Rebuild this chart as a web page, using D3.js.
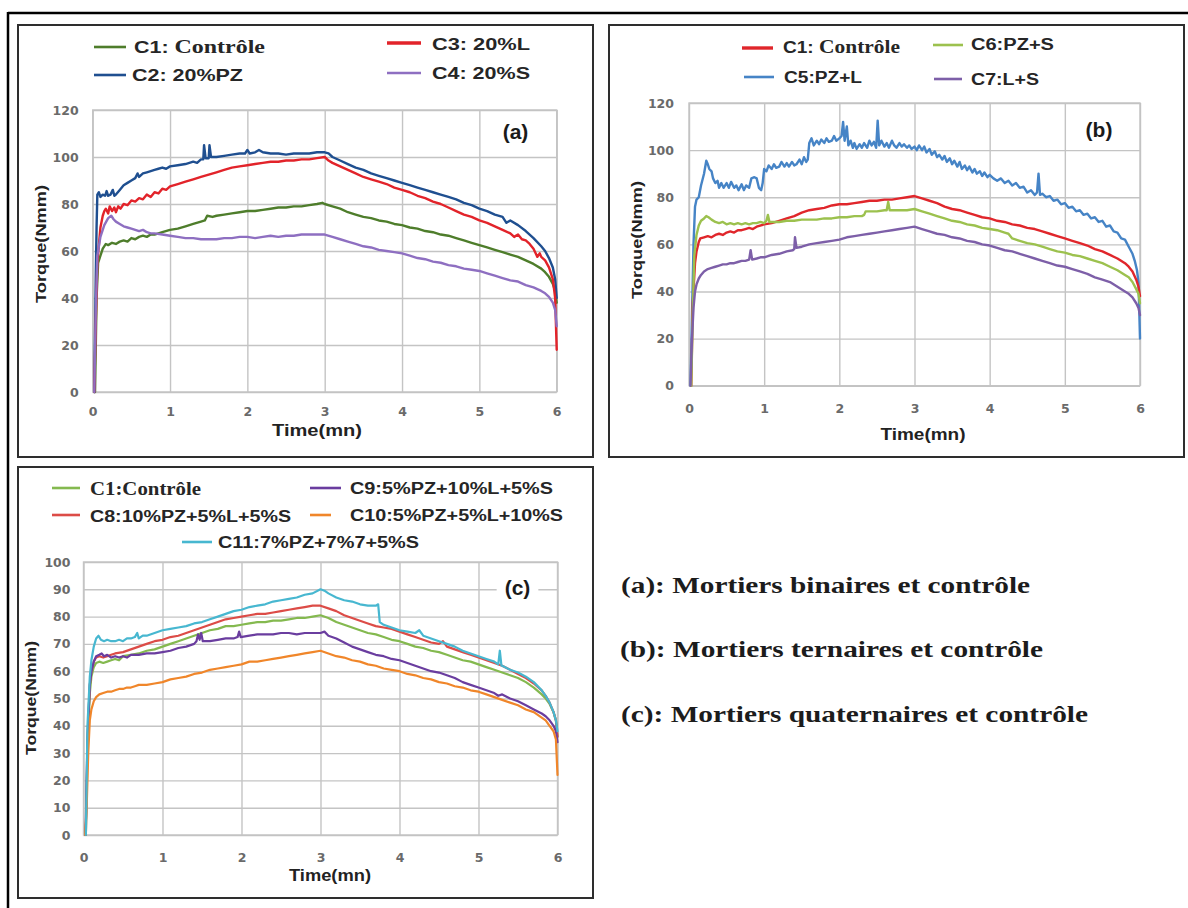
<!DOCTYPE html>
<html>
<head>
<meta charset="utf-8">
<script src="https://cdn.jsdelivr.net/npm/d3@7"></script>
<style>
  body { margin: 0; background: #fff; }
  svg { display: block; }
</style>
</head>
<body>
<svg id="fig" width="1188" height="908"></svg>
<script>
// ---- Axis ticks ----------------------------------------------------------
const timeTicks = [0, 1, 2, 3, 4, 5, 6];
const torqueTicksAB = [0, 20, 40, 60, 80, 100, 120];
const torqueTicksC = [0, 10, 20, 30, 40, 50, 60, 70, 80, 90, 100];

// ---- Series: [time (mn), torque (Nmm)] -----------------------------------
// (a) binary mortars
const a_C1 = [[0.03,0],[0.05,40],[0.07,55],[0.1,58],[0.13,61],[0.17,63],[0.2,62.5],[0.25,63.5],[0.3,63],[0.35,64],[0.4,64.5],[0.45,64],[0.5,65.5],[0.55,65],[0.6,66],[0.65,66.5],[0.7,66],[0.75,67],[0.8,67],[0.85,67.5],[0.9,68],[1.0,69],[1.1,69.5],[1.2,70.5],[1.3,71.5],[1.4,72.5],[1.45,73],[1.48,75],[1.55,74.5],[1.6,75],[1.7,75.5],[1.8,76],[1.9,76.5],[2.0,77],[2.1,77],[2.2,77.5],[2.3,78],[2.4,78.5],[2.5,78.5],[2.6,79],[2.7,79],[2.8,79.5],[2.9,80],[2.97,80.5],[3.0,80],[3.1,79],[3.2,78],[3.3,76.5],[3.4,75.5],[3.5,74.5],[3.6,74],[3.7,73],[3.8,72.5],[3.9,71.5],[4.0,71],[4.1,70],[4.2,69.5],[4.3,68.5],[4.4,68],[4.5,67],[4.6,66.5],[4.7,65.5],[4.8,64.5],[4.9,63.5],[5.0,62.5],[5.1,61.5],[5.2,60.5],[5.3,59.5],[5.4,58.5],[5.5,57.5],[5.6,56],[5.7,54.5],[5.8,52.5],[5.85,51],[5.9,49],[5.95,46],[5.98,43],[6.0,38]];
const a_C2 = [[0.02,0],[0.04,50],[0.05,70],[0.06,84],[0.08,85],[0.1,83],[0.13,84],[0.16,83.5],[0.18,85.5],[0.2,83.5],[0.23,84],[0.26,86],[0.28,83.5],[0.3,84],[0.35,86],[0.4,88],[0.45,89],[0.5,90],[0.55,91],[0.58,93],[0.6,91.5],[0.65,93],[0.7,93.5],[0.75,94],[0.8,94.5],[0.85,95],[0.9,95.5],[0.95,95],[1.0,96],[1.1,96.5],[1.2,97],[1.3,98],[1.35,97.5],[1.4,99],[1.43,99],[1.44,105],[1.46,99.5],[1.5,99.5],[1.51,105],[1.53,100],[1.6,100],[1.7,100.5],[1.8,101],[1.9,101.5],[1.97,101.5],[2.0,103],[2.03,101.5],[2.1,102],[2.15,103],[2.2,102],[2.3,101.5],[2.4,101.5],[2.5,101],[2.6,101.5],[2.7,101.5],[2.8,101.5],[2.9,102],[3.0,102],[3.05,101.5],[3.1,100],[3.2,98.5],[3.3,97],[3.4,95.5],[3.5,94.5],[3.6,93],[3.7,92],[3.8,91],[3.9,90],[4.0,89],[4.1,88],[4.2,87],[4.3,86],[4.4,85],[4.5,84],[4.6,83],[4.7,82],[4.8,80.5],[4.9,79.5],[5.0,78],[5.1,77],[5.2,75.5],[5.3,74.5],[5.35,72],[5.4,73],[5.5,71],[5.6,68.5],[5.7,65.5],[5.8,62],[5.85,60],[5.9,57],[5.95,53],[5.98,48],[6.0,40]];
const a_C3 = [[0.02,0],[0.04,30],[0.06,55],[0.1,70],[0.13,75],[0.15,77],[0.17,78],[0.2,76],[0.22,79],[0.25,77],[0.28,78.5],[0.3,76.5],[0.33,79],[0.36,78],[0.4,80],[0.45,79.5],[0.5,81.5],[0.55,81],[0.6,82.5],[0.65,82],[0.7,84],[0.75,83],[0.8,85],[0.85,84.5],[0.9,86.5],[0.95,86],[1.0,87.5],[1.1,88.5],[1.2,89.5],[1.3,90.5],[1.4,91.5],[1.5,92.5],[1.6,93.5],[1.7,94.5],[1.8,95.5],[1.9,96],[2.0,96.5],[2.1,97],[2.2,97.5],[2.3,98],[2.4,98],[2.5,98.5],[2.6,98.5],[2.7,99],[2.8,99],[2.9,99.5],[3.0,100],[3.05,98.5],[3.1,97.5],[3.2,96],[3.3,94.5],[3.4,93],[3.5,91.5],[3.6,90.5],[3.7,89.5],[3.8,88.5],[3.9,87],[4.0,86],[4.1,85],[4.2,83.5],[4.3,82.5],[4.4,81],[4.5,80],[4.6,78.5],[4.7,77],[4.8,75.5],[4.9,74.5],[5.0,73],[5.1,72],[5.2,70.5],[5.3,69],[5.4,67.5],[5.45,66],[5.5,67],[5.55,65],[5.6,64.5],[5.65,63],[5.7,61],[5.75,57.5],[5.78,59],[5.8,57.5],[5.85,56],[5.9,53],[5.95,48],[5.98,40],[6.0,18]];
const a_C4 = [[0.02,0],[0.04,35],[0.06,58],[0.1,66],[0.15,71],[0.2,74],[0.24,75],[0.27,73.5],[0.3,72.5],[0.35,71.5],[0.4,70.5],[0.45,70],[0.5,69.5],[0.55,69],[0.6,68.5],[0.65,69],[0.7,68],[0.75,67.5],[0.8,67.5],[0.9,67],[1.0,66.5],[1.1,66],[1.2,65.5],[1.3,65.5],[1.4,65],[1.5,65],[1.6,65],[1.7,65.5],[1.8,65.5],[1.9,66],[2.0,66],[2.1,65.5],[2.2,66],[2.3,66.5],[2.4,66],[2.5,66.5],[2.6,66.5],[2.7,67],[2.8,67],[2.9,67],[3.0,67],[3.1,66],[3.2,65],[3.3,64],[3.4,63],[3.5,62],[3.6,61.5],[3.7,60.5],[3.8,60],[3.9,59.5],[4.0,59],[4.1,58],[4.2,57],[4.3,56.5],[4.4,55.5],[4.5,55],[4.6,54],[4.7,53.5],[4.8,52.5],[4.9,52],[5.0,51.5],[5.1,50.5],[5.2,49.5],[5.3,48.5],[5.4,47.5],[5.5,47],[5.6,45.5],[5.7,44.5],[5.8,43],[5.85,42],[5.9,40.5],[5.95,38],[5.98,35],[6.0,28]];

// (b) ternary mortars
const b_C1 = [[0.03,0],[0.05,35],[0.08,52],[0.1,57],[0.13,61],[0.15,62.5],[0.2,63],[0.25,63.5],[0.3,63],[0.35,64],[0.4,64.5],[0.45,64],[0.5,65],[0.55,65.5],[0.6,65],[0.65,66],[0.7,66],[0.75,66.5],[0.8,67],[0.85,66.5],[0.9,67.5],[1.0,68.5],[1.1,69],[1.2,70],[1.3,71],[1.4,72],[1.5,73.5],[1.6,74.5],[1.7,75],[1.8,75.5],[1.9,76.5],[2.0,77],[2.1,77],[2.2,77.5],[2.3,78],[2.4,78.5],[2.5,78.5],[2.6,79],[2.7,79],[2.8,79.5],[2.9,80],[3.0,80.5],[3.1,79.5],[3.2,78.5],[3.3,77.5],[3.4,76],[3.5,75],[3.6,74.5],[3.7,73.5],[3.8,72.5],[3.9,71.5],[4.0,71],[4.1,70],[4.2,69.5],[4.3,68.5],[4.4,68],[4.5,67],[4.6,66.5],[4.7,65.5],[4.8,64.5],[4.9,63.5],[5.0,62.5],[5.1,61.5],[5.2,60.5],[5.3,59.5],[5.4,58],[5.5,57],[5.6,55.5],[5.7,54],[5.8,52],[5.85,50.5],[5.9,48.5],[5.95,45],[5.98,42],[6.0,38]];
const b_C5 = [[0.02,0],[0.04,30],[0.06,60],[0.08,76],[0.1,79],[0.13,80],[0.16,85],[0.2,90],[0.23,95.5],[0.25,94],[0.27,92],[0.3,91],[0.32,88],[0.35,86],[0.38,87],[0.4,84],[0.43,86],[0.46,84],[0.5,86],[0.53,84],[0.56,86.5],[0.6,84],[0.63,85],[0.66,83],[0.7,85.5],[0.73,83],[0.76,85],[0.8,84],[0.83,88],[0.87,88.5],[0.9,88],[0.93,84],[0.96,83],[0.98,86],[1.0,92],[1.03,91],[1.06,93.5],[1.1,92],[1.13,94],[1.16,92.5],[1.2,93],[1.23,95],[1.27,93],[1.3,94.5],[1.33,93],[1.37,95],[1.4,93.5],[1.43,94],[1.47,96],[1.5,94],[1.53,97],[1.56,95],[1.58,96],[1.6,103],[1.63,105],[1.66,102],[1.7,104],[1.73,102.5],[1.76,104.5],[1.8,103],[1.83,105],[1.86,103.5],[1.9,104],[1.93,106],[1.96,104],[2.0,105],[2.03,106],[2.05,112],[2.07,104],[2.1,110],[2.12,102],[2.15,104],[2.18,101],[2.2,103],[2.23,100.5],[2.27,102.5],[2.3,101],[2.33,103],[2.37,101],[2.4,104],[2.43,102],[2.46,103.5],[2.49,101],[2.51,112.5],[2.53,102],[2.56,104],[2.6,101.5],[2.63,103],[2.66,101],[2.7,104],[2.73,102],[2.76,101],[2.8,103],[2.83,101.5],[2.86,102.5],[2.9,101],[2.93,102],[2.96,100.5],[3.0,101.5],[3.03,100],[3.06,102],[3.1,100],[3.13,101.5],[3.16,99],[3.2,100.5],[3.23,98],[3.27,99.5],[3.3,97],[3.33,98],[3.37,96],[3.4,97.5],[3.43,95],[3.47,96.5],[3.5,94],[3.53,95.5],[3.57,93],[3.6,95],[3.63,92],[3.67,93.5],[3.7,91.5],[3.73,93],[3.77,90.5],[3.8,92],[3.83,90],[3.87,91],[3.9,89],[3.93,90.5],[3.97,88.5],[4.0,89.5],[4.05,88],[4.1,87],[4.15,88],[4.2,86],[4.25,87],[4.3,85],[4.35,86],[4.4,84],[4.45,84.5],[4.5,82],[4.55,83],[4.6,81],[4.63,82],[4.65,90],[4.67,81],[4.7,81.5],[4.75,80],[4.8,80.5],[4.85,78.5],[4.9,79],[4.95,77],[5.0,77.5],[5.05,75.5],[5.1,76],[5.15,74],[5.2,74.5],[5.25,72.5],[5.3,73],[5.35,71],[5.4,71.5],[5.45,69.5],[5.5,70],[5.55,67.5],[5.6,68],[5.65,65.5],[5.7,65],[5.75,62.5],[5.8,62],[5.85,59],[5.9,56],[5.93,53],[5.96,49],[5.98,44],[6.0,20]];
const b_C6 = [[0.03,0],[0.05,30],[0.07,55],[0.1,64],[0.13,68],[0.16,70],[0.2,71],[0.23,72],[0.26,71.5],[0.3,70.5],[0.35,69.5],[0.4,69],[0.45,69.5],[0.5,68.5],[0.55,69],[0.6,68.5],[0.65,69],[0.7,68.5],[0.75,69],[0.8,68.5],[0.85,69],[0.9,69],[0.95,69.5],[1.0,69],[1.03,70],[1.05,72.5],[1.07,69.5],[1.1,69.5],[1.2,69.5],[1.3,70],[1.4,70],[1.5,70.5],[1.6,70.5],[1.7,70.5],[1.8,71],[1.9,71],[2.0,71.5],[2.1,71.5],[2.2,72],[2.3,72],[2.33,72.5],[2.35,74],[2.4,74],[2.5,74],[2.6,74.5],[2.63,74.5],[2.65,78],[2.67,74.5],[2.7,74.5],[2.8,74.5],[2.9,74.5],[3.0,75],[3.1,74],[3.2,73],[3.3,72],[3.4,71],[3.5,70],[3.6,69.5],[3.7,68.5],[3.8,68],[3.9,67],[4.0,66.5],[4.1,66],[4.2,65],[4.25,64.5],[4.3,62.5],[4.35,62],[4.4,61.5],[4.5,60.5],[4.6,60],[4.7,59],[4.8,58],[4.9,57],[5.0,56.5],[5.1,55.5],[5.2,55],[5.3,54],[5.4,53],[5.5,52],[5.6,50.5],[5.7,49],[5.8,47],[5.85,46],[5.9,44],[5.95,41],[5.98,39],[6.0,35]];
const b_C7 = [[0.02,0],[0.04,20],[0.06,33],[0.08,40],[0.1,43],[0.13,45.5],[0.16,47],[0.2,48.5],[0.25,49.5],[0.3,50],[0.35,50.5],[0.4,51],[0.45,51.5],[0.5,51.5],[0.55,52],[0.6,52],[0.65,52.5],[0.7,53],[0.75,53],[0.8,53.5],[0.82,57.5],[0.84,53.5],[0.9,54],[0.95,54.5],[1.0,54.5],[1.1,55.5],[1.2,56],[1.3,57],[1.38,57.5],[1.4,58],[1.41,63],[1.43,58.5],[1.5,59],[1.6,60],[1.7,60.5],[1.8,61],[1.9,61.5],[2.0,62],[2.1,63],[2.2,63.5],[2.3,64],[2.4,64.5],[2.5,65],[2.6,65.5],[2.7,66],[2.8,66.5],[2.9,67],[3.0,67.5],[3.1,66.5],[3.2,65.5],[3.3,64.5],[3.4,64],[3.5,63],[3.6,62.5],[3.7,61.5],[3.8,61],[3.9,60],[4.0,59.5],[4.1,58.5],[4.2,57.5],[4.3,57],[4.4,56],[4.5,55],[4.6,54],[4.7,53],[4.8,52],[4.9,51],[5.0,50.5],[5.1,49.5],[5.2,48.5],[5.3,47.5],[5.4,46],[5.5,45],[5.6,44],[5.7,42],[5.8,40],[5.85,39],[5.9,37.5],[5.95,35],[5.98,33],[6.0,30]];

// (c) quaternary mortars
const c_C1 = [[0.03,0],[0.05,30],[0.08,52],[0.1,58],[0.13,61.5],[0.16,63],[0.2,63.5],[0.25,63],[0.3,63.5],[0.35,64],[0.4,64.5],[0.45,64],[0.5,65.5],[0.6,66],[0.7,66.5],[0.8,67.5],[0.9,68],[1.0,69],[1.1,70],[1.2,71],[1.3,72],[1.4,73],[1.5,74],[1.6,75],[1.7,75.5],[1.8,76.5],[1.9,76.5],[2.0,77],[2.1,77.5],[2.2,78],[2.3,78],[2.4,78.5],[2.5,78.5],[2.6,79],[2.7,79.5],[2.8,79.5],[2.9,80],[3.0,80.5],[3.1,79.5],[3.2,78],[3.3,77],[3.4,76],[3.5,75],[3.6,74],[3.7,73.5],[3.8,72.5],[3.9,71.5],[4.0,71],[4.1,70],[4.2,69],[4.3,68.5],[4.4,67.5],[4.5,67],[4.6,66],[4.7,65],[4.8,64],[4.9,63.5],[5.0,62.5],[5.1,61.5],[5.2,60.5],[5.3,59.5],[5.4,58.5],[5.5,57.5],[5.6,56],[5.7,54],[5.8,51.5],[5.85,50],[5.9,48],[5.95,45],[5.98,42],[6.0,36]];
const c_C8 = [[0.03,0],[0.05,35],[0.08,55],[0.1,60],[0.13,63.5],[0.16,65],[0.2,65.5],[0.25,65],[0.3,65.5],[0.35,66],[0.4,66.5],[0.5,67],[0.6,68],[0.7,69],[0.8,70],[0.9,71],[1.0,71.5],[1.1,72.5],[1.2,73],[1.3,74],[1.4,75],[1.5,76],[1.6,77],[1.7,78],[1.8,79],[1.9,79.5],[2.0,80],[2.1,80.5],[2.2,81],[2.3,81],[2.4,81.5],[2.5,82],[2.6,82.5],[2.7,83],[2.8,83.5],[2.9,84],[3.0,84],[3.1,83],[3.2,82],[3.3,80.5],[3.4,79.5],[3.5,78.5],[3.6,77.5],[3.7,76.5],[3.8,76],[3.9,75.5],[4.0,74.5],[4.1,73.5],[4.2,72.5],[4.3,71.5],[4.4,70.5],[4.5,70],[4.55,71],[4.6,69],[4.7,68],[4.8,67],[4.9,66],[5.0,65],[5.1,64],[5.2,63],[5.3,62],[5.4,60.5],[5.5,59],[5.6,57.5],[5.7,55.5],[5.8,53],[5.85,51],[5.9,48.5],[5.95,45],[5.98,42],[6.0,36]];
const c_C9 = [[0.02,0],[0.03,5],[0.05,35],[0.08,55],[0.1,60],[0.13,63.5],[0.16,65.5],[0.2,66],[0.23,66.5],[0.26,65.5],[0.3,66],[0.35,65],[0.4,65.5],[0.45,65],[0.5,65.5],[0.55,65],[0.6,66],[0.7,66],[0.8,66.5],[0.9,66.5],[1.0,67],[1.1,67.5],[1.2,68.5],[1.3,69],[1.4,70],[1.43,71],[1.45,73.5],[1.47,71.5],[1.49,74],[1.51,71],[1.55,71],[1.6,71],[1.7,71.5],[1.8,72],[1.9,72],[1.95,72.5],[1.97,74.5],[1.99,72.5],[2.1,73],[2.2,73.5],[2.3,73.5],[2.4,73.5],[2.5,74],[2.6,74],[2.7,73.5],[2.8,74],[2.9,74],[3.0,74],[3.05,74.5],[3.1,73],[3.2,72],[3.3,70.5],[3.4,69],[3.5,68],[3.6,67],[3.7,66],[3.8,65.5],[3.9,64.5],[4.0,64],[4.1,63],[4.2,62],[4.3,61],[4.4,60],[4.5,59.5],[4.6,58.5],[4.7,57.5],[4.8,56],[4.9,55],[5.0,54],[5.1,53],[5.2,52],[5.25,51],[5.3,51.5],[5.4,50],[5.5,49],[5.6,47.5],[5.7,46],[5.8,44.5],[5.85,43.5],[5.9,42],[5.95,40],[5.98,38],[6.0,34]];
const c_C10 = [[0.02,0],[0.04,10],[0.06,30],[0.08,42],[0.1,46],[0.13,49],[0.16,50.5],[0.2,51.5],[0.25,52],[0.3,52.5],[0.35,52.5],[0.4,53],[0.45,53.5],[0.5,53.5],[0.55,54],[0.6,54],[0.65,54.5],[0.7,55],[0.8,55],[0.9,55.5],[1.0,56],[1.1,57],[1.2,57.5],[1.3,58],[1.4,59],[1.5,59.5],[1.6,60.5],[1.7,61],[1.8,61.5],[1.9,62],[2.0,62.5],[2.1,63.5],[2.2,63.5],[2.3,64],[2.4,64.5],[2.5,65],[2.6,65.5],[2.7,66],[2.8,66.5],[2.9,67],[3.0,67.5],[3.1,66.5],[3.2,65.5],[3.3,65],[3.4,64],[3.5,63.5],[3.6,62.5],[3.7,62],[3.8,61],[3.9,60.5],[4.0,60],[4.1,59],[4.2,58.5],[4.3,57.5],[4.4,57],[4.5,56],[4.6,55.5],[4.7,54.5],[4.8,54],[4.9,53],[5.0,52.5],[5.1,51.5],[5.2,50.5],[5.3,49.5],[5.4,48.5],[5.5,47.5],[5.6,46],[5.7,45],[5.8,43],[5.85,42],[5.9,40],[5.95,38],[5.98,35],[6.0,22]];
const c_C11 = [[0.03,0],[0.05,40],[0.08,58],[0.1,64],[0.13,69],[0.16,72],[0.19,73],[0.22,71.5],[0.26,71],[0.3,71.5],[0.35,71],[0.4,71],[0.45,71.5],[0.5,71],[0.55,72],[0.6,72],[0.65,72.5],[0.68,74],[0.7,72],[0.75,73],[0.8,73],[0.9,74],[1.0,75],[1.1,75.5],[1.2,76],[1.3,76.5],[1.4,77.5],[1.5,78],[1.6,79],[1.7,80],[1.8,81],[1.9,82],[2.0,82.5],[2.1,83.5],[2.2,84],[2.3,84.5],[2.4,85.5],[2.5,86],[2.6,86.5],[2.7,87],[2.8,88],[2.9,88.5],[3.0,90],[3.05,89.5],[3.1,88.5],[3.2,87],[3.3,86],[3.4,85.5],[3.5,84.5],[3.6,84],[3.7,84],[3.73,84.5],[3.75,78],[3.8,77],[3.9,76],[4.0,75],[4.1,74.5],[4.2,74],[4.25,75],[4.3,73],[4.4,72],[4.5,71],[4.6,70],[4.7,69],[4.8,67.5],[4.9,66.5],[5.0,65.5],[5.1,64.5],[5.2,63.5],[5.25,62.5],[5.27,67.5],[5.29,62],[5.3,62],[5.4,60.5],[5.5,59.5],[5.6,58],[5.7,56],[5.8,53],[5.85,51],[5.9,48.5],[5.95,45],[5.98,42],[6.0,38]];

// ---- Caption texts ----------------------------------------------------------
const captions = [
  "(a): Mortiers binaires et contrôle",
  "(b): Mortiers ternaires et contrôle",
  "(c): Mortiers quaternaires et contrôle"
];

const SANS = "Liberation Sans, Arial, sans-serif";
const SERIF = "Liberation Serif, Times New Roman, serif";

// ---- Panel layout -----------------------------------------------------------
const panels = [
  {
    frame: [18, 25, 593, 457],
    plot: { left: 92.7, right: 556.7, top: 110, bottom: 392 },
    yMax: 120, yTicks: torqueTicksAB,
    yPad: 14, xPad: 15,
    tag: "(a)", tagX: 515.5, tagY: 139,
    yTitle: { x: 41, y: 244, len: 118 },
    xTitle: { x: 317, y: 436, len: 90 },
    lineWidth: 2.4,
    series: [
      { data: a_C1, color: "#4e7d2b" },
      { data: a_C2, color: "#1f4f90" },
      { data: a_C3, color: "#e2232a" },
      { data: a_C4, color: "#8e6fc1" }
    ],
    legend: [
      { color: "#4e7d2b", x1: 94, x2: 126, ly: 47, tx: 134, ty: 53, len: 131, parts: [["C1: ", SANS], ["Contrôle", SERIF]] },
      { color: "#1f4f90", x1: 94, x2: 126, ly: 75, tx: 132, ty: 81, len: 111, parts: [["C2: 20%PZ", SANS]] },
      { color: "#e2232a", x1: 387, x2: 421, ly: 43, tx: 432, ty: 50, len: 98, parts: [["C3: 20%L", SANS]], w: 3.4 },
      { color: "#8e6fc1", x1: 387, x2: 421, ly: 73, tx: 432, ty: 79, len: 98, parts: [["C4: 20%S", SANS]] }
    ],
    legendSize: 17
  },
  {
    frame: [609, 25, 1184, 457],
    plot: { left: 689, right: 1140, top: 103, bottom: 385.7 },
    yMax: 120, yTicks: torqueTicksAB,
    yPad: 15, xPad: 18,
    tag: "(b)", tagX: 1099, tagY: 137,
    yTitle: { x: 637, y: 240, len: 118 },
    xTitle: { x: 923, y: 440, len: 85 },
    lineWidth: 2.4,
    series: [
      { data: b_C5, color: "#4684c6" },
      { data: b_C1, color: "#e0262b" },
      { data: b_C6, color: "#9cc14e" },
      { data: b_C7, color: "#7d5fa8" }
    ],
    legend: [
      { color: "#e0262b", x1: 742, x2: 773, ly: 48, tx: 783, ty: 53, len: 117, parts: [["C1:", SANS], [" Contrôle", SERIF]], w: 3.4 },
      { color: "#9cc14e", x1: 933, x2: 963, ly: 45, tx: 971, ty: 50, len: 83, parts: [["C6:PZ+S", SANS]] },
      { color: "#4684c6", x1: 744, x2: 774, ly: 77, tx: 784, ty: 83, len: 78, parts: [["C5:PZ+L", SANS]] },
      { color: "#7d5fa8", x1: 934, x2: 962, ly: 79, tx: 971, ty: 85, len: 68, parts: [["C7:L+S", SANS]] }
    ],
    legendSize: 16
  },
  {
    frame: [18, 467, 593, 898],
    plot: { left: 83.5, right: 557.5, top: 562, bottom: 835 },
    yMax: 100, yTicks: torqueTicksC,
    yPad: 13, xPad: 18,
    tag: "(c)", tagX: 517.5, tagY: 595,
    yTitle: { x: 31, y: 698, len: 114 },
    xTitle: { x: 330, y: 881, len: 82 },
    lineWidth: 2.2,
    series: [
      { data: c_C1, color: "#84b94f" },
      { data: c_C8, color: "#dc4c47" },
      { data: c_C9, color: "#6a3d9f" },
      { data: c_C10, color: "#f0862a" },
      { data: c_C11, color: "#47b7d0" }
    ],
    legend: [
      { color: "#84b94f", x1: 52, x2: 80, ly: 488, tx: 90, ty: 495, len: 111, parts: [["C1:Contrôle", SERIF]] },
      { color: "#6a3d9f", x1: 310, x2: 341, ly: 488, tx: 350, ty: 494, len: 203, parts: [["C9:5%PZ+10%L+5%S", SANS]] },
      { color: "#dc4c47", x1: 52, x2: 80, ly: 515, tx: 90, ty: 522, len: 201, parts: [["C8:10%PZ+5%L+5%S", SANS]] },
      { color: "#f0862a", x1: 310, x2: 331, ly: 515, tx: 350, ty: 521, len: 213, parts: [["C10:5%PZ+5%L+10%S", SANS]] },
      { color: "#47b7d0", x1: 182, x2: 212, ly: 542, tx: 218, ty: 548, len: 201, parts: [["C11:7%PZ+7%7+5%S", SANS]] }
    ],
    legendSize: 16
  }
];

const svg = d3.select("#fig");

// Outer frame (top and left rules)
svg.append("line").attr("x1", 8).attr("x2", 1188).attr("y1", 13).attr("y2", 13)
  .attr("stroke", "#000").attr("stroke-width", 2.5);
svg.append("line").attr("x1", 8).attr("x2", 8).attr("y1", 12).attr("y2", 908)
  .attr("stroke", "#000").attr("stroke-width", 2.5);

panels.forEach(p => {
  const g = svg.append("g");
  const [fx1, fy1, fx2, fy2] = p.frame;
  g.append("rect").attr("x", fx1).attr("y", fy1).attr("width", fx2 - fx1).attr("height", fy2 - fy1)
    .attr("fill", "#fff").attr("stroke", "#2e2e2e").attr("stroke-width", 2);

  const x = d3.scaleLinear().domain([0, 6]).range([p.plot.left, p.plot.right]);
  const y = d3.scaleLinear().domain([0, p.yMax]).range([p.plot.bottom, p.plot.top]);
  const pw = p.plot.right - p.plot.left, ph = p.plot.bottom - p.plot.top;

  // gridlines
  const gridY = g.append("g").attr("transform", `translate(${p.plot.left},0)`)
    .call(d3.axisLeft(y).tickValues(p.yTicks).tickSize(-pw).tickFormat(""));
  const gridX = g.append("g").attr("transform", `translate(0,${p.plot.bottom})`)
    .call(d3.axisBottom(x).tickValues(timeTicks).tickSize(-ph).tickFormat(""));
  [gridY, gridX].forEach(gr => {
    gr.select(".domain").remove();
    gr.selectAll("line").attr("stroke", "#c4c4c4").attr("stroke-width", 1.4);
  });
  g.append("rect").attr("x", p.plot.left).attr("y", p.plot.top).attr("width", pw).attr("height", ph)
    .attr("fill", "none").attr("stroke", "#c4c4c4").attr("stroke-width", 1.4);

  // tick labels
  const fmt = d3.format("d");
  const axY = g.append("g").attr("transform", `translate(${p.plot.left},0)`)
    .call(d3.axisLeft(y).tickValues(p.yTicks).tickFormat(fmt).tickSize(0).tickPadding(p.yPad));
  const axX = g.append("g").attr("transform", `translate(0,${p.plot.bottom})`)
    .call(d3.axisBottom(x).tickValues(timeTicks).tickFormat(fmt).tickSize(0).tickPadding(p.xPad));
  [axY, axX].forEach(ax => {
    ax.select(".domain").remove();
    ax.attr("font-family", null).attr("font-size", null);
    ax.selectAll("text").attr("fill", "#6a6a6a").style("font-family", "DejaVu Sans, sans-serif")
      .style("font-size", "12.5px").style("font-weight", "bold");
  });

  // curves
  const line = d3.line().x(d => x(d[0])).y(d => y(d[1]));
  p.series.forEach(s => {
    g.append("path").datum(s.data).attr("d", line).attr("fill", "none")
      .attr("stroke", s.color).attr("stroke-width", p.lineWidth)
      .attr("stroke-linejoin", "round").attr("stroke-linecap", "round");
  });

  // panel tag with white backing
  const tag = g.append("text").attr("x", p.tagX).attr("y", p.tagY).attr("text-anchor", "middle")
    .attr("font-family", SANS).attr("font-weight", "bold").attr("font-size", 21)
    .attr("fill", "#1a1a1a").text(p.tag);
  const bb = tag.node().getBBox();
  g.insert("rect", () => tag.node()).attr("x", bb.x - 8).attr("y", bb.y - 2)
    .attr("width", bb.width + 16).attr("height", bb.height + 4).attr("fill", "#fff");

  // axis titles
  g.append("text").attr("transform", `translate(${p.yTitle.x},${p.yTitle.y}) rotate(-90)`)
    .attr("text-anchor", "middle").attr("dy", "0.35em")
    .attr("textLength", p.yTitle.len).attr("lengthAdjust", "spacingAndGlyphs")
    .attr("font-family", SANS).attr("font-weight", "bold").attr("font-size", 15)
    .attr("fill", "#222").text("Torque(Nmm)");
  g.append("text").attr("x", p.xTitle.x - p.xTitle.len / 2).attr("y", p.xTitle.y)
    .attr("textLength", p.xTitle.len).attr("lengthAdjust", "spacingAndGlyphs")
    .attr("font-family", SANS).attr("font-weight", "bold").attr("font-size", 16)
    .attr("fill", "#222").text("Time(mn)");

  // legend: each label may mix a sans prefix with a serif word
  p.legend.forEach(L => {
    g.append("line").attr("x1", L.x1).attr("x2", L.x2).attr("y1", L.ly).attr("y2", L.ly)
      .attr("stroke", L.color).attr("stroke-width", L.w || 2.6);
    const t = g.append("text").attr("x", L.tx).attr("y", L.ty)
      .attr("textLength", L.len).attr("lengthAdjust", "spacingAndGlyphs")
      .attr("font-family", L.parts[0][1]).attr("font-size", p.legendSize)
      .attr("font-weight", "bold").attr("fill", "#262626")
      .attr("xml:space", "preserve");
    L.parts.forEach(([str, fam]) => {
      t.append("tspan").attr("font-family", fam)
        .attr("font-size", fam === SERIF ? p.legendSize + 2 : p.legendSize)
        .text(str);
    });
  });
});

// captions at right
const capLayout = [
  { x: 621, y: 593, len: 409 },
  { x: 620, y: 657, len: 423 },
  { x: 621, y: 722, len: 467 }
];
captions.forEach((c, i) => {
  svg.append("text").attr("x", capLayout[i].x).attr("y", capLayout[i].y)
    .attr("textLength", capLayout[i].len).attr("lengthAdjust", "spacingAndGlyphs")
    .attr("font-family", SERIF).attr("font-weight", "bold").attr("font-size", 24)
    .attr("fill", "#1c1c1c").text(c);
});
</script>
</body>
</html>
